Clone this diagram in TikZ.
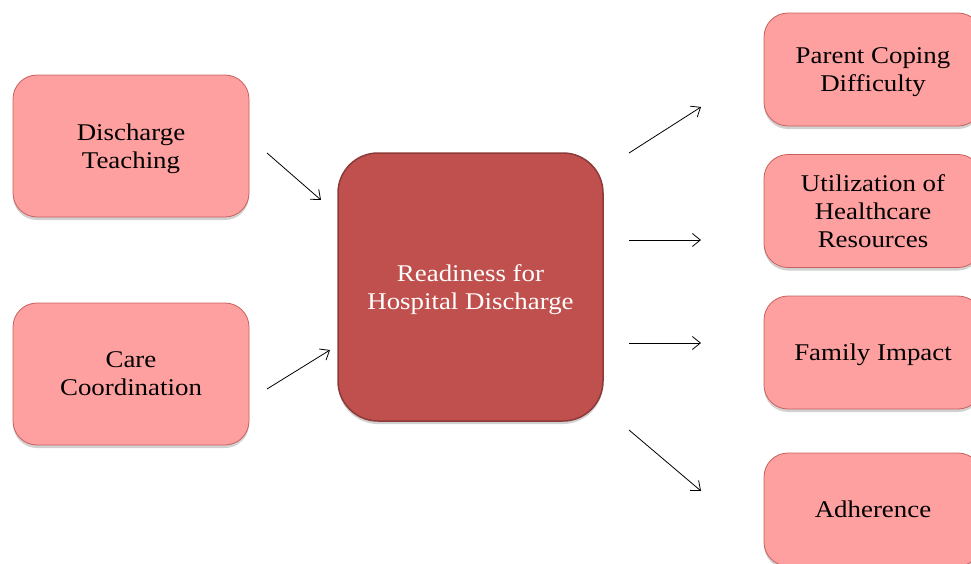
\documentclass[tikz,border=0pt]{standalone}
\usepackage{fontspec}
\setmainfont{Liberation Serif}[FakeStretch=1.12]
\usetikzlibrary{arrows.meta,shadows}
\definecolor{pinkfill}{HTML}{FFA0A0}
\definecolor{pinkline}{HTML}{C9605C}
\definecolor{redfill}{HTML}{C0504D}
\definecolor{redline}{HTML}{8C3A38}
\begin{document}
\begin{tikzpicture}[x=1pt,y=-1pt,
  softshadow/.style={drop shadow={shadow xshift=0pt,shadow yshift=-3pt,opacity=0.3,fill=black!60}},
  leftbox/.style={draw=pinkline,line width=0.8pt,fill=pinkfill,rounded corners=24pt,
    minimum width=236pt,minimum height=142pt,align=center,text=black,text depth=0pt,
    font=\fontsize{24}{28}\selectfont,softshadow},
  rightbox/.style={leftbox,minimum width=218pt,minimum height=113pt},
  mainbox/.style={draw=redline,line width=1.5pt,fill=redfill,rounded corners=40pt,
    minimum width=265pt,minimum height=268pt,align=center,text=white,text depth=0pt,
    font=\fontsize{24}{28}\selectfont,softshadow},
  arr/.style={-{Straight Barb[length=8pt,width=13pt]},line width=0.8pt,black}]
\useasboundingbox (0,0) rectangle (971,563);
\clip (0,0) rectangle (971,563);
\node[leftbox] (dt) at (131,146) {Discharge\\Teaching};
\node[leftbox] (cc) at (131,374) {Care\\Coordination};
\node[mainbox] (rd) at (470.5,287) {Readiness for\\Hospital Discharge};
\node[rightbox] (pc) at (873,69.5) {Parent Coping\\Difficulty};
\node[rightbox] (uh) at (873,211) {Utilization of\\Healthcare\\Resources};
\node[rightbox] (fi) at (873,352.5) {Family Impact};
\node[rightbox] (ad) at (873,509.5) {Adherence};
\coordinate (a1s) at (267,153); \coordinate (a1e) at (321,200);
\coordinate (a2s) at (267,389); \coordinate (a2e) at (330,350);
\coordinate (b1s) at (629,153); \coordinate (b1e) at (701,107);
\coordinate (b2s) at (629,240); \coordinate (b2e) at (701,240);
\coordinate (b3s) at (629,343); \coordinate (b3e) at (701,343);
\coordinate (b4s) at (629,430); \coordinate (b4e) at (701,491);
\draw[arr] (a1s) -- (a1e);
\draw[arr] (a2s) -- (a2e);
\draw[arr] (b1s) -- (b1e);
\draw[arr] (b2s) -- (b2e);
\draw[arr] (b3s) -- (b3e);
\draw[arr] (b4s) -- (b4e);
\end{tikzpicture}
\end{document}
